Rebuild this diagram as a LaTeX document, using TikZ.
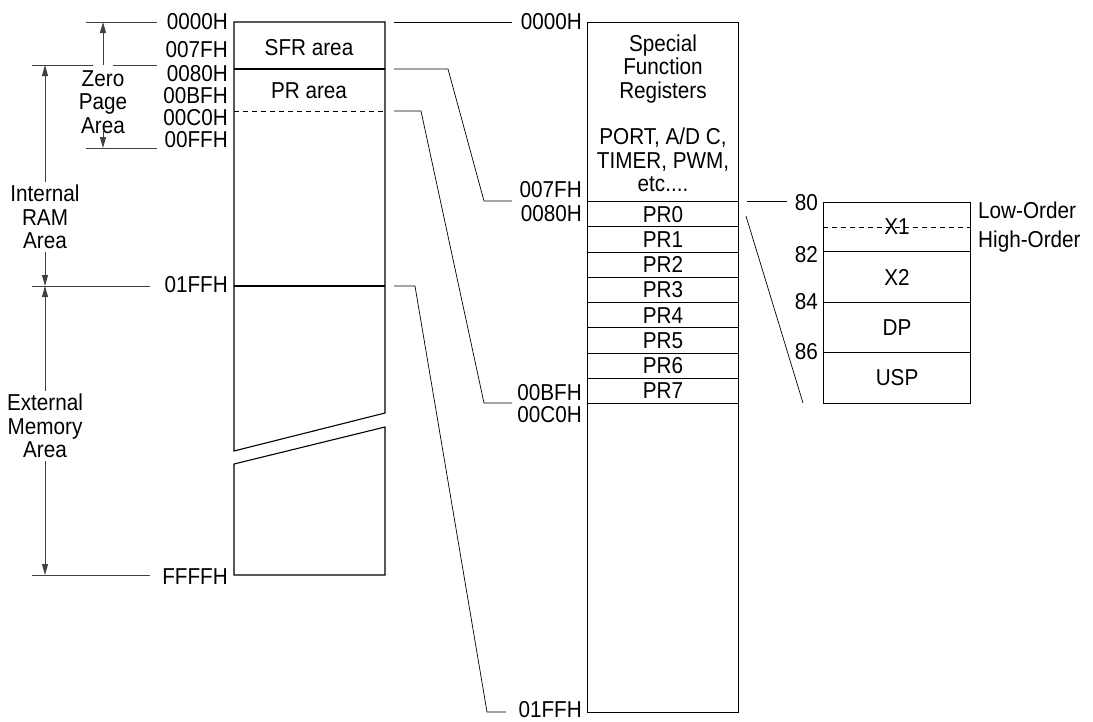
\documentclass[tikz,border=0pt]{standalone}
\usepackage{fontspec}
\setmainfont[FakeStretch=0.9]{Liberation Sans}
\usetikzlibrary{arrows.meta,positioning}
\tikzset{
  lettering/.style={font=\fontsize{23}{23.3}\selectfont,inner sep=0pt},
  txt/.style={lettering,align=center},
  addr/.style={lettering,anchor=east},
  box/.style={draw,line width=1.1pt},
  cell/.style={box,txt,minimum width=151pt,minimum height=25.25pt,anchor=north west},
  reg/.style={box,txt,minimum width=147pt,anchor=north west},
  dim/.style={draw=black!75,line width=1pt},
  dimarr/.style={dim,-{Triangle[length=11pt,width=6pt]}},
  link/.style={line width=0.7pt},
  halfline/.style={line width=0.8pt,dash pattern=on 5pt off 4pt},
}

\begin{document}
\begin{tikzpicture}[x=1pt,y=-1pt]
  \useasboundingbox (0,0) rectangle (1093,721);

  % left: whole address space
  \draw[box] (234,22) -- (385,22) -- (385,413) -- (234,451) -- cycle;
  \draw[box] (234,464) -- (385,427) -- (385,575) -- (234,575) -- cycle;
  \draw[box] (234,69) -- (385,69);
  \draw[halfline] (234,111) -- (385,111);
  \draw[box] (234,286) -- (385,286);
  \node[txt] (sfrarea) at (309,48) {SFR area};
  \node[txt] (prarea) at (309,91) {PR area};

  \node[addr] (a0000) at (228,22) {0000H};
  \node[addr] (a007f) at (228,50) {007FH};
  \node[addr] (a0080) at (228,74) {0080H};
  \node[addr] (a00bf) at (228,96) {00BFH};
  \node[addr] (a00c0) at (228,118) {00C0H};
  \node[addr] (a00ff) at (228,140) {00FFH};
  \node[addr] (a01ff) at (228,285) {01FFH};
  \node[addr] (affff) at (228,577) {FFFFH};

  % dimension lines
  \draw[dim] (86,22) -- (157,22);
  \draw[dim] (32,65) -- (93,65) (113,65) -- (157,65);
  \draw[dim] (86,148) -- (157,148);
  \draw[dim] (32,286) -- (150,286);
  \draw[dim] (32,575) -- (150,575);

  \node[txt] (zp) at (103,102) {Zero\\Page\\Area};
  \node[txt] (iram) at (45,217) {Internal\\RAM\\Area};
  \node[txt] (ext) at (45,426) {External\\Memory\\Area};

  \coordinate (zptop) at (103,22);
  \coordinate (zpbot) at (103,148);
  \coordinate (ramtop) at (45,65);
  \coordinate (rambot) at (45,286);
  \coordinate (extbot) at (45,575);
  \draw[dimarr] (103,65) -- (zptop);
  \draw[dimarr] (103,130) -- (zpbot);
  \draw[dimarr] (iram.north) ++(0,-3) -- (ramtop);
  \draw[dimarr] (iram.south) ++(0,3) -- (rambot);
  \draw[dimarr] (ext.north) ++(0,-3) -- (rambot);
  \draw[dimarr] (ext.south) ++(0,3) -- (extbot);

  % middle: internal RAM
  \node[cell,minimum height=179pt] (sfr) at (587,22) {};
  \node[txt] (sfrname) at (663,69) {Special\\Function\\Registers};
  \node[txt] (sfrlist) at (663,160) {PORT, A/D C,\\TIMER, PWM,\\etc....};
  \foreach \i in {0,...,7}
    \node[cell] (pr\i) at (587,{201+25.25*\i}) {PR\i};
  \node[cell,minimum height=309pt] (ram) at (587,403) {};

  \node[addr] (b0000) at (582,22) {0000H};
  \node[addr] (b007f) at (582,190) {007FH};
  \node[addr] (b0080) at (582,214) {0080H};
  \node[addr] (b00bf) at (582,393) {00BFH};
  \node[addr] (b00c0) at (582,415) {00C0H};
  \node[addr] (b01ff) at (582,710) {01FFH};

  % links left -> middle
  \coordinate (l0) at (394,22);   \coordinate (m0) at (512,22);
  \coordinate (l1) at (394,69);   \coordinate (m1) at (512,201);
  \coordinate (l2) at (394,111);  \coordinate (m2) at (512,403);
  \coordinate (l3) at (394,286);  \coordinate (m3) at (506,712);
  \draw[link] (l0) -- (m0);
  \draw[link] (l1) -- (448,69) -- (484,201) -- (m1);
  \draw[link] (l2) -- (421,111) -- (484,403) -- (m2);
  \draw[link] (l3) -- (415,286) -- (487,712) -- (m3);

  % right: pointer registers
  \node[reg,minimum height=49pt] (x1) at (823,202) {};
  \node[txt] (x1name) at (897,227) {X1};
  \draw[halfline] (x1.west |- x1name) -- (x1.east |- x1name);
  \node[reg,minimum height=51pt] (x2) at (823,251) {X2};
  \node[reg,minimum height=50pt] (dp) at (823,302) {DP};
  \node[reg,minimum height=51pt] (usp) at (823,352) {USP};

  \node[addr] (r80) at (818,203) {80};
  \node[addr] (r82) at (818,255) {82};
  \node[addr] (r84) at (818,302) {84};
  \node[addr] (r86) at (818,352) {86};
  \node[addr,anchor=west] (low) at (978,210) {Low-Order};
  \node[addr,anchor=west] (high) at (978,242) {High-Order};

  \coordinate (p0) at (747,201);  \coordinate (q0) at (787,201);
  \coordinate (p1) at (746,216);  \coordinate (q1) at (803,403);
  \draw[link] (p0) -- (q0);
  \draw[link] (p1) -- (q1);
\end{tikzpicture}
\end{document}
